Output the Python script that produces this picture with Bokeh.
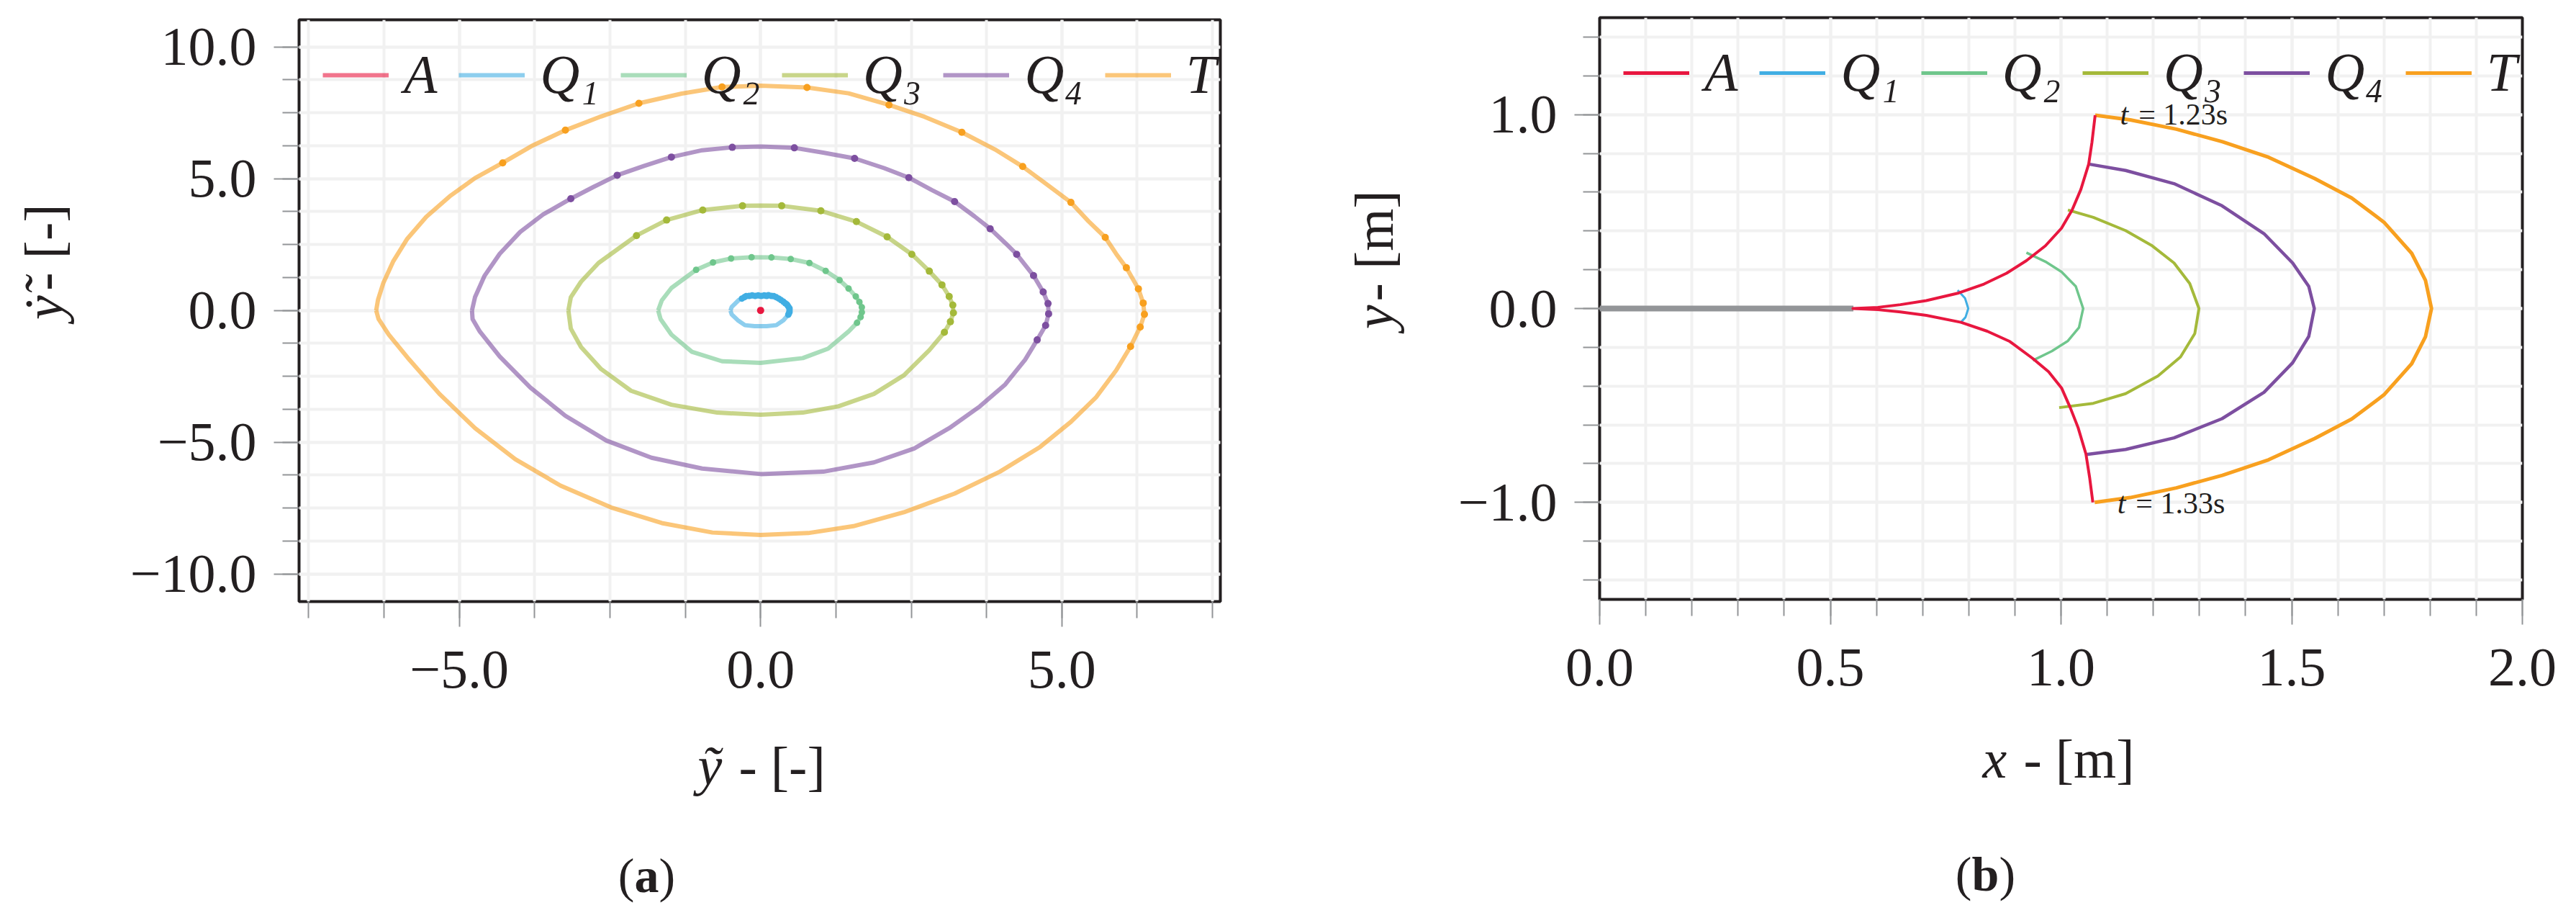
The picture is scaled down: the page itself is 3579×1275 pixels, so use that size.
import math
from bokeh.plotting import figure
from bokeh.models import (Range1d, FixedTicker, CustomJSTickFormatter, Legend,
                          LegendItem, Label)
from bokeh.layouts import row, column
from bokeh.embed import file_html
from bokeh.resources import INLINE

# ---------------- data ----------------
SERIES = ["A", "Q₁", "Q₂", "Q₃", "Q₄", "T"]
COLORS = ["#e8173f", "#41aee3", "#6fc68c", "#a4b93a", "#7d4fa0", "#f8a01f"]

# (a) phase portrait: line points and marker points
A_px = [0.0, 0.0]
A_py = [0.12, -0.12]
A_dx = [0.0]
A_dy = [0.0]

Q1_px = [-0.50, -0.48, -0.36, -0.31, -0.24, -0.14, -0.04, 0.06, 0.13, 0.22, 0.30, 0.38, 0.44,
         0.48, 0.48, 0.46, 0.38, 0.26, 0.10, -0.10, -0.26, -0.38, -0.48, -0.50]
Q1_py = [-0.01, 0.13, 0.40, 0.45, 0.54, 0.57, 0.57, 0.57, 0.58, 0.54, 0.45, 0.33, 0.22,
         0.08, -0.06, -0.16, -0.37, -0.56, -0.60, -0.60, -0.56, -0.37, -0.15, -0.01]
Q1_dx = [-0.31, -0.27, -0.24, -0.19, -0.14, -0.09, -0.04, 0.01, 0.06, 0.10, 0.13, 0.18, 0.22,
         0.26, 0.30, 0.34, 0.38, 0.41, 0.44, 0.46, 0.48, 0.48, 0.48, 0.47, 0.46]
Q1_dy = [0.45, 0.50, 0.54, 0.55, 0.57, 0.55, 0.57, 0.55, 0.57, 0.55, 0.58, 0.55, 0.54,
         0.50, 0.45, 0.39, 0.33, 0.27, 0.22, 0.15, 0.08, 0.01, -0.06, -0.11, -0.16]

Q2_px = [-1.70, -1.64, -1.48, -1.07, -0.79, -0.49, -0.15, 0.18, 0.50, 0.81, 1.08, 1.31, 1.46, 1.58,
         1.64, 1.68, 1.68, 1.66, 1.60, 1.46, 1.12, 0.70, 0.0, -0.64, -1.14, -1.48, -1.66, -1.70]
Q2_py = [0.0, 0.38, 0.85, 1.54, 1.82, 1.97, 2.02, 2.01, 1.95, 1.80, 1.50, 1.15, 0.83, 0.53,
         0.32, 0.12, -0.07, -0.25, -0.47, -0.80, -1.45, -1.81, -1.99, -1.93, -1.57, -0.92, -0.33, 0.0]
Q2_dx = [-1.07, -0.79, -0.49, -0.15, 0.18, 0.50, 0.81, 1.08, 1.31, 1.46, 1.58, 1.64, 1.68, 1.68, 1.66, 1.60]
Q2_dy = [1.54, 1.82, 1.97, 2.02, 2.01, 1.95, 1.80, 1.50, 1.15, 0.83, 0.53, 0.32, 0.12, -0.07, -0.25, -0.47]

Q3_px = [-3.19, -3.15, -2.98, -2.69, -2.06, -1.56, -0.96, -0.30, 0.0, 0.35, 1.00, 1.59, 2.10, 2.51,
         2.80, 3.01, 3.13, 3.19, 3.20, 3.15, 3.05, 2.80, 2.38, 1.88, 1.29, 0.70, 0.0, -0.72, -1.48,
         -2.15, -2.65, -2.98, -3.15, -3.19]
Q3_py = [0.0, 0.50, 1.09, 1.80, 2.84, 3.43, 3.81, 3.97, 3.98, 3.97, 3.78, 3.37, 2.79, 2.13,
         1.49, 0.97, 0.53, 0.20, -0.09, -0.43, -0.83, -1.51, -2.46, -3.17, -3.64, -3.88, -3.96, -3.88, -3.58,
         -3.05, -2.22, -1.39, -0.69, 0.0]
Q3_dx = [-2.06, -1.56, -0.96, -0.30, 0.35, 1.00, 1.59, 2.10, 2.51, 2.80, 3.01, 3.13, 3.19, 3.20, 3.15, 3.05]
Q3_dy = [2.84, 3.43, 3.81, 3.97, 3.97, 3.78, 3.37, 2.79, 2.13, 1.49, 0.97, 0.53, 0.20, -0.09, -0.43, -0.83]

Q4_px = [-4.79, -4.74, -4.58, -4.33, -3.99, -3.61, -3.15, -2.77, -2.38, -1.94, -1.48, -0.97, -0.47, 0.0,
         0.56, 1.04, 1.56, 2.05, 2.46, 2.84, 3.22, 3.55, 3.81, 4.06, 4.25, 4.53, 4.69, 4.77, 4.78, 4.73,
         4.59, 4.39, 4.06, 3.64, 3.13, 2.55, 1.88, 1.04, 0.0, -0.97, -1.81, -2.56, -3.24, -3.82, -4.33,
         -4.66, -4.78, -4.79]
Q4_py = [0.0, 0.50, 1.32, 2.15, 2.98, 3.64, 4.24, 4.69, 5.13, 5.48, 5.82, 6.08, 6.19, 6.22,
         6.17, 5.99, 5.77, 5.40, 5.04, 4.57, 4.13, 3.57, 3.10, 2.56, 2.13, 1.32, 0.70, 0.26, -0.13, -0.57,
         -1.12, -1.87, -2.81, -3.64, -4.47, -5.24, -5.77, -6.12, -6.21, -6.00, -5.59, -4.94, -4.00, -2.93, -1.75,
         -0.80, -0.33, 0.0]
Q4_dx = [-3.15, -2.38, -1.48, -0.47, 0.56, 1.56, 2.46, 3.22, 3.81, 4.25, 4.53, 4.69, 4.77, 4.78, 4.73, 4.59]
Q4_dy = [4.24, 5.13, 5.82, 6.19, 6.17, 5.77, 5.04, 4.13, 3.10, 2.13, 1.32, 0.70, 0.26, -0.13, -0.57, -1.12]

T_px = [-6.38, -6.35, -6.26, -6.10, -5.87, -5.55, -5.16, -4.74, -4.28, -3.80, -3.24, -2.65, -2.02, -1.31,
        -0.64, 0.0, 0.77, 1.46, 2.13, 2.72, 3.34, 3.89, 4.35, 4.77, 5.15, 5.44, 5.72, 5.90, 6.07, 6.27,
        6.35, 6.37, 6.30, 6.14, 5.90, 5.57, 5.15, 4.64, 3.97, 3.22, 2.38, 1.54, 0.79, 0.0, -0.80, -1.64,
        -2.48, -3.32, -4.07, -4.74, -5.33, -5.83, -6.17, -6.34, -6.38]
T_py = [0.0, 0.40, 1.05, 1.85, 2.70, 3.55, 4.33, 5.02, 5.60, 6.24, 6.84, 7.36, 7.86, 8.23,
        8.48, 8.53, 8.46, 8.24, 7.80, 7.35, 6.76, 6.11, 5.46, 4.75, 4.10, 3.39, 2.77, 2.15, 1.62, 0.82,
        0.28, -0.15, -0.63, -1.37, -2.28, -3.29, -4.23, -5.18, -6.12, -6.95, -7.66, -8.19, -8.45, -8.52, -8.43, -8.07,
        -7.48, -6.65, -5.65, -4.47, -3.17, -1.87, -0.92, -0.33, 0.0]
T_dx = [-4.28, -3.24, -2.02, -0.64, 0.77, 2.13, 3.34, 4.35, 5.15, 5.72, 6.07, 6.27, 6.35, 6.37, 6.30, 6.14]
T_dy = [5.60, 6.84, 7.86, 8.48, 8.46, 7.80, 6.76, 5.46, 4.10, 2.77, 1.62, 0.82, 0.28, -0.15, -0.63, -1.37]

# (b) trajectories in the plane
rest_x = [0.0, 0.55]
rest_y = [0.0, 0.0]

A_x = [1.074, 1.067, 1.060, 1.043, 1.024, 1.001, 0.966, 0.925, 0.882, 0.833, 0.778, 0.708, 0.652, 0.603,
       0.549, 0.603, 0.652, 0.708, 0.783, 0.840, 0.889, 0.939, 0.973, 1.001, 1.020, 1.037, 1.054, 1.062, 1.069]
A_y = [0.997, 0.856, 0.745, 0.614, 0.508, 0.414, 0.323, 0.247, 0.182, 0.126, 0.080, 0.041, 0.020, 0.006,
       0.0, -0.006, -0.018, -0.035, -0.071, -0.117, -0.170, -0.258, -0.326, -0.409, -0.511, -0.614, -0.750, -0.871, -1.0]

Q1_x = [0.776, 0.792, 0.799, 0.793, 0.783]
Q1_y = [0.095, 0.053, 0.0, -0.045, -0.071]

Q2_x = [0.925, 0.966, 1.001, 1.032, 1.048, 1.039, 1.015, 0.980, 0.939]
Q2_y = [0.288, 0.242, 0.189, 0.114, 0.0, -0.098, -0.167, -0.220, -0.268]

Q3_x = [1.015, 1.070, 1.140, 1.196, 1.245, 1.279, 1.299, 1.290, 1.259, 1.210, 1.140, 1.070, 0.996]
Q3_y = [0.508, 0.470, 0.402, 0.326, 0.235, 0.129, 0.0, -0.129, -0.250, -0.348, -0.439, -0.489, -0.511]

Q4_x = [1.060, 1.140, 1.245, 1.349, 1.440, 1.502, 1.537, 1.549, 1.537, 1.502, 1.440, 1.349, 1.245, 1.140, 1.055]
Q4_y = [0.745, 0.712, 0.644, 0.530, 0.386, 0.235, 0.114, 0.0, -0.144, -0.280, -0.432, -0.568, -0.667, -0.727, -0.753]

T_x = [1.074, 1.150, 1.250, 1.350, 1.450, 1.550, 1.630, 1.700, 1.760, 1.790, 1.803,
       1.790, 1.760, 1.700, 1.630, 1.550, 1.450, 1.350, 1.250, 1.150, 1.073]
T_y = [0.997, 0.973, 0.925, 0.860, 0.780, 0.670, 0.570, 0.445, 0.285, 0.145, 0.0,
       -0.145, -0.285, -0.445, -0.570, -0.670, -0.780, -0.860, -0.925, -0.975, -1.0]

t_labels = ["= 1.23s", "= 1.33s"]
t_label_x = [1.128, 1.122]
t_label_y = [1.0, -1.004]

# axis labels and captions: (italic part, upright part)
NB = "\u00a0"
a_xlabel = ("y\u0303", NB + "-" + NB + "[-]")
a_ylabel = ("y\u0307\u0303", NB + "-" + NB + "[-]")
b_xlabel = ("x", NB + "-" + NB + "[m]")
b_ylabel = ("y", NB + "-" + NB + "[m]")
captions = ["a", "b"]

# ticks
a_xmajor = [-5.0, 0.0, 5.0]
a_xminor = [-7.5, -6.25, -5.0, -3.75, -2.5, -1.25, 0.0, 1.25, 2.5, 3.75, 5.0, 6.25, 7.5]
a_ymajor = [-10.0, -5.0, 0.0, 5.0, 10.0]
a_yminor = [-10.0, -8.75, -7.5, -6.25, -5.0, -3.75, -2.5, -1.25, 0.0, 1.25, 2.5, 3.75, 5.0, 6.25, 7.5, 8.75, 10.0]
b_xmajor = [0.0, 0.5, 1.0, 1.5, 2.0]
b_xminor = [0.0, 0.1, 0.2, 0.3, 0.4, 0.5, 0.6, 0.7, 0.8, 0.9, 1.0, 1.1, 1.2, 1.3, 1.4, 1.5, 1.6, 1.7, 1.8, 1.9, 2.0]
b_ymajor = [-1.0, 0.0, 1.0]
b_yminor = [-1.4, -1.2, -1.0, -0.8, -0.6, -0.4, -0.2, 0.0, 0.2, 0.4, 0.6, 0.8, 1.0, 1.2, 1.4]

# ---------------- styling helpers ----------------
FONT = "Liberation Serif"
INK = "#231f20"
TICK = "#939598"
GRID = "#f1f1f1"
FS = "76px"

fmt = CustomJSTickFormatter(code="""
const s = Math.abs(tick).toFixed(1);
return (tick < -1e-9 ? "\u2212" : "") + s;
""")


def make_fig(xr, yr, fw, fh, bl, bt, bb, br, xt, yt):
    p = figure(output_backend="svg", toolbar_location=None, frame_width=fw, frame_height=fh,
               x_range=Range1d(*xr), y_range=Range1d(*yr),
               min_border_left=bl, min_border_top=bt, min_border_bottom=bb, min_border_right=br,
               background_fill_color="white", border_fill_color="white")
    p.outline_line_color = INK
    p.outline_line_width = 4
    p.xaxis.ticker = FixedTicker(ticks=xt[0], minor_ticks=xt[1])
    p.yaxis.ticker = FixedTicker(ticks=yt[0], minor_ticks=yt[1])
    for ax in (p.xaxis[0], p.yaxis[0]):
        ax.formatter = fmt
        ax.axis_line_color = None
        ax.major_tick_line_color = TICK
        ax.minor_tick_line_color = TICK
        ax.major_tick_line_width = 2
        ax.minor_tick_line_width = 2
        ax.major_tick_in = 0
        ax.minor_tick_in = 0
        ax.major_tick_out = 35
        ax.minor_tick_out = 23
        ax.major_label_text_font = FONT
        ax.major_label_text_font_size = FS
        ax.major_label_text_color = INK
    p.xaxis.major_label_standoff = 34
    p.yaxis.major_label_standoff = 24
    for g in (p.xgrid[0], p.ygrid[0]):
        g.grid_line_color = GRID
        g.grid_line_width = 4
        g.minor_grid_line_color = GRID
        g.minor_grid_line_width = 4
    return p


def text_fig(w, h):
    f = figure(output_backend="svg", toolbar_location=None, width=w, height=h,
               x_range=Range1d(0, w), y_range=Range1d(0, h), x_axis_type=None, y_axis_type=None,
               min_border=0, outline_line_color=None, background_fill_color="white",
               border_fill_color="white")
    f.grid.visible = False
    return f


def label(p, x, y, text, size=FS, style="normal", align="left", angle=0.0):
    p.add_layout(Label(x=x, y=y, text=text, text_font=FONT, text_font_size=size,
                       text_font_style=style, text_align=align, text_baseline="middle",
                       angle=angle, text_color=INK))


def mixed(p, x, y, parts, gap):
    # italic variable first, upright remainder right after it (both left-aligned)
    label(p, x, y, parts[0], style="italic")
    label(p, x + gap, y, parts[1])


def mixed_vertical(p, x, y_italic, y_rest, parts):
    # rotated label: each piece centred on its own anchor
    label(p, x, y_italic, parts[0], style="italic", align="center", angle=math.pi / 2)
    label(p, x, y_rest, parts[1], align="center", angle=math.pi / 2)


def caption(p, x, y, letter, half):
    label(p, x - half, y, "(", size="68px", align="right")
    label(p, x, y, letter, size="68px", style="bold", align="center")
    label(p, x + half, y, ")", size="68px", align="left")


def legend(p, renderers):
    lg = Legend(items=[LegendItem(label=s, renderers=[r]) for s, r in zip(SERIES, renderers)],
                location=(33, 688), orientation="horizontal",
                background_fill_alpha=0, border_line_alpha=0,
                label_text_font=FONT, label_text_font_style="italic", label_text_font_size=FS,
                label_text_color=INK, glyph_width=92, glyph_height=84, label_height=84,
                label_standoff=21, spacing=30, padding=0, margin=0)
    p.add_layout(lg)


# ---------------- (a) ----------------
pa = make_fig((-7.66, 7.63), (-11.05, 11.03), 1280, 808, 265, 27, 175, 54,
              (a_xmajor, a_xminor), (a_ymajor, a_yminor))
phase = [(A_px, A_py, A_dx, A_dy), (Q1_px, Q1_py, Q1_dx, Q1_dy), (Q2_px, Q2_py, Q2_dx, Q2_dy),
         (Q3_px, Q3_py, Q3_dx, Q3_dy), (Q4_px, Q4_py, Q4_dx, Q4_dy), (T_px, T_py, T_dx, T_dy)]
dot_sizes = [10, 9, 9, 10, 10, 10]
ra = []
for (lx, ly, dx, dy), c, ds in zip(phase, COLORS, dot_sizes):
    r = pa.line(lx, ly, line_color=c, line_alpha=0.6, line_width=6, line_join="round")
    pa.scatter(dx, dy, size=ds, fill_color=c, line_color=c, line_width=0)
    ra.append(r)
legend(pa, ra)

ya = text_fig(150, 1010)
mixed_vertical(ya, 60, 510, 603, a_ylabel)
ba = text_fig(1749, 249)
mixed(ba, 969, 196, a_xlabel, 38)
caption(ba, 898, 44, captions[0], 17)

# ---------------- (b) ----------------
pb = make_fig((0.0, 2.0), (-1.5, 1.5), 1282, 808, 253, 24, 178, 56,
              (b_xmajor, b_xminor), (b_ymajor, b_yminor))
pb.line(rest_x, rest_y, line_color="#939598", line_width=8)
paths = [(Q1_x, Q1_y), (Q2_x, Q2_y), (Q3_x, Q3_y), (Q4_x, Q4_y), (T_x, T_y)]
widths = [3.0, 3.5, 4.0, 4.5, 5.0]
for (x, y), c, w in zip(paths, COLORS[1:], widths):
    pb.line(x, y, line_color=c, line_width=w, line_join="round")
pb.line(A_x, A_y, line_color=COLORS[0], line_width=4.0, line_join="round")
nan = float("nan")
rb = [pb.line([nan], [nan], line_color=c, line_width=5) for c in COLORS]
legend(pb, rb)
for txt, tx, ty in zip(t_labels, t_label_x, t_label_y):
    pb.add_layout(Label(x=tx, y=ty, text="t", text_font=FONT, text_font_size="42px",
                        text_font_style="italic", text_baseline="middle", text_color=INK))
    pb.add_layout(Label(x=tx + 0.040, y=ty, text=txt, text_font=FONT, text_font_size="42px",
                        text_baseline="middle", text_color=INK))

yb = text_fig(220, 1010)
mixed_vertical(yb, 159, 490, 602, b_ylabel)
bb = text_fig(1811, 249)
mixed(bb, 1005, 206, b_xlabel, 38)
caption(bb, 1009, 46, captions[1], 19)

layout = row(column(row(ya, pa), ba), column(row(yb, pb), bb))
open("out.html", "w").write(file_html(layout, INLINE))
